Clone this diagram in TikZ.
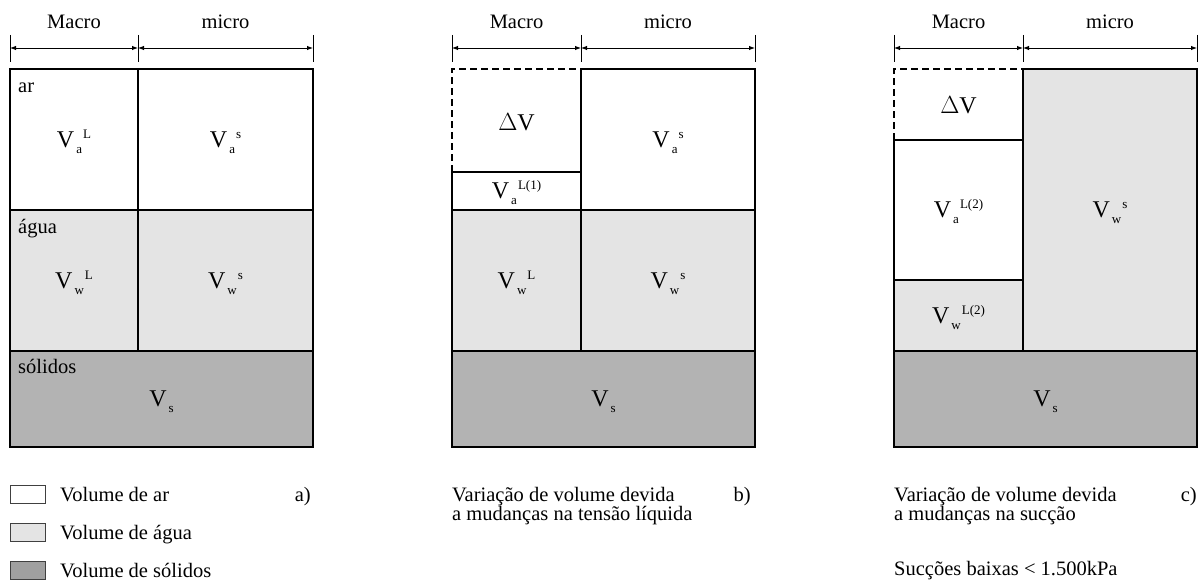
\documentclass[tikz,border=0pt]{standalone}
\usepackage{fontspec}
\setmainfont{Liberation Serif}
\usetikzlibrary{arrows.meta}
\definecolor{waterc}{HTML}{E4E4E4}
\definecolor{solidc}{HTML}{B3B3B3}
\definecolor{legsolid}{HTML}{A0A0A0}
\definecolor{legedge}{HTML}{404040}
\newcommand{\volsym}[2]{V\kern2bp\raisebox{-6bp}[0pt][0pt]{\fontsize{13bp}{13bp}\selectfont #1}\kern1bp\raisebox{9bp}[0pt][0pt]{\fontsize{13bp}{13bp}\selectfont #2}}
\newcommand{\twolines}[2]{\begin{tabular}[t]{@{}l@{}}#1\\#2\end{tabular}}
\begin{document}
\begin{tikzpicture}[x=1bp,y=-1bp,
  cell/.style={draw=black,line width=1.8bp},
  aircell/.style={cell,fill=white},
  watercell/.style={cell,fill=waterc},
  solidcell/.style={cell,fill=solidc},
  dashedge/.style={draw=black,line width=1.8bp,dash pattern=on 7bp off 4bp},
  dimline/.style={line width=0.9bp,{Latex[length=6bp,width=4.5bp]}-{Latex[length=6bp,width=4.5bp]}},
  tickline/.style={line width=0.9bp},
  lbl/.style={font=\fontsize{20.5bp}{24bp}\selectfont,inner sep=0pt},
  caption/.style={font=\fontsize{20.5bp}{18bp}\selectfont,inner sep=0pt,anchor=base west},
  sym/.style={font=\fontsize{24bp}{28bp}\selectfont,inner sep=0pt},
  legbox/.style={draw=legedge,line width=1bp}
]
\useasboundingbox (0,0) rectangle (1203,581);

% ---------- dimension bars (three diagrams) ----------
\foreach \L/\M/\R/\n in {10/138/313/a, 452/581/755/b, 894/1023/1197/c}{
  \coordinate (\n l) at (\L,48);
  \coordinate (\n m) at (\M,48);
  \coordinate (\n r) at (\R,48);
  \draw[tickline] (\L,35) -- (\L,62);
  \draw[tickline] (\M,35) -- (\M,62);
  \draw[tickline] (\R,35) -- (\R,62);
  \draw[dimline] (\n l) -- (\n m);
  \draw[dimline] (\n m) -- (\n r);
  \node[lbl,anchor=base] (\n macro) at ({(\L+\M)/2},29) {Macro};
  \node[lbl,anchor=base] (\n micro) at ({(\M+\R)/2},29) {micro};
}

% ---------- a) ----------
\draw[aircell] (10,69) rectangle (138,210);
\draw[aircell] (138,69) rectangle (313,210);
\draw[watercell] (10,210) rectangle (138,351);
\draw[watercell] (138,210) rectangle (313,351);
\draw[solidcell] (10,351) rectangle (313,447);
\node[lbl,anchor=base west] (ar) at (18,93) {ar};
\node[lbl,anchor=base west] (agua) at (18,234) {água};
\node[lbl,anchor=base west] (solidos) at (18,373) {sólidos};
\node[sym] (aVaL) at (74,139.5) {\volsym{a}{L}};
\node[sym] (aVas) at (225.5,139.5) {\volsym{a}{s}};
\node[sym] (aVwL) at (74,280.5) {\volsym{w}{L}};
\node[sym] (aVws) at (225.5,280.5) {\volsym{w}{s}};
\node[sym] (aVs) at (161.5,399) {V\kern2bp\raisebox{-6bp}[0pt][0pt]{\fontsize{13bp}{13bp}\selectfont s}};

% ---------- b) ----------
\draw[dashedge] (452,172) -- (452,69) -- (581,69);
\draw[cell] (452,172) -- (581,172);
\draw[aircell] (452,172) rectangle (581,210);
\draw[aircell] (581,69) rectangle (755,210);
\draw[watercell] (452,210) rectangle (581,351);
\draw[watercell] (581,210) rectangle (755,351);
\draw[solidcell] (452,351) rectangle (755,447);
\node[sym] (bdV) at (516.5,122) {$\Delta$V};
\node[sym] (bVaL) at (516.5,191) {\volsym{a}{L(1)}};
\node[sym] (bVas) at (668,139.5) {\volsym{a}{s}};
\node[sym] (bVwL) at (516.5,280.5) {\volsym{w}{L}};
\node[sym] (bVws) at (668,280.5) {\volsym{w}{s}};
\node[sym] (bVs) at (603.5,399) {V\kern2bp\raisebox{-6bp}[0pt][0pt]{\fontsize{13bp}{13bp}\selectfont s}};

% ---------- c) ----------
\draw[dashedge] (894,140) -- (894,69) -- (1023,69);
\draw[cell] (894,140) -- (1023,140);
\draw[aircell] (894,140) rectangle (1023,280);
\draw[watercell] (894,280) rectangle (1023,351);
\draw[watercell] (1023,69) rectangle (1197,351);
\draw[solidcell] (894,351) rectangle (1197,447);
\node[sym] (cdV) at (958.5,105) {$\Delta$V};
\node[sym] (cVaL) at (958.5,210) {\volsym{a}{L(2)}};
\node[sym] (cVwL) at (958.5,315.5) {\volsym{w}{L(2)}};
\node[sym] (cVws) at (1110,210) {\volsym{w}{s}};
\node[sym] (cVs) at (1045.5,399) {V\kern2bp\raisebox{-6bp}[0pt][0pt]{\fontsize{13bp}{13bp}\selectfont s}};

% ---------- legend & captions ----------
\draw[legbox,fill=white] (10,485) rectangle (45,503);
\draw[legbox,fill=waterc] (10,523) rectangle (45,541);
\draw[legbox,fill=legsolid] (10,561) rectangle (45,579);
\node[lbl,anchor=base west] (leg1) at (60,501) {Volume de ar};
\node[lbl,anchor=base west] (leg2) at (60,539) {Volume de água};
\node[lbl,anchor=base west] (leg3) at (60,577) {Volume de sólidos};
\node[lbl,anchor=base east] (capa) at (311,501) {a)};

\node[caption] (capb1) at (452,501) {\twolines{Variação de volume devida}{a mudanças na tensão líquida}};
\node[lbl,anchor=base east] (capb) at (751,501) {b)};

\node[caption] (capc1) at (894,501) {\twolines{Variação de volume devida}{a mudanças na sucção}};
\node[lbl,anchor=base west] (capc3) at (894,575) {Sucções baixas < 1.500kPa};
\node[lbl,anchor=base east] (capc) at (1197,501) {c)};
\end{tikzpicture}
\end{document}
